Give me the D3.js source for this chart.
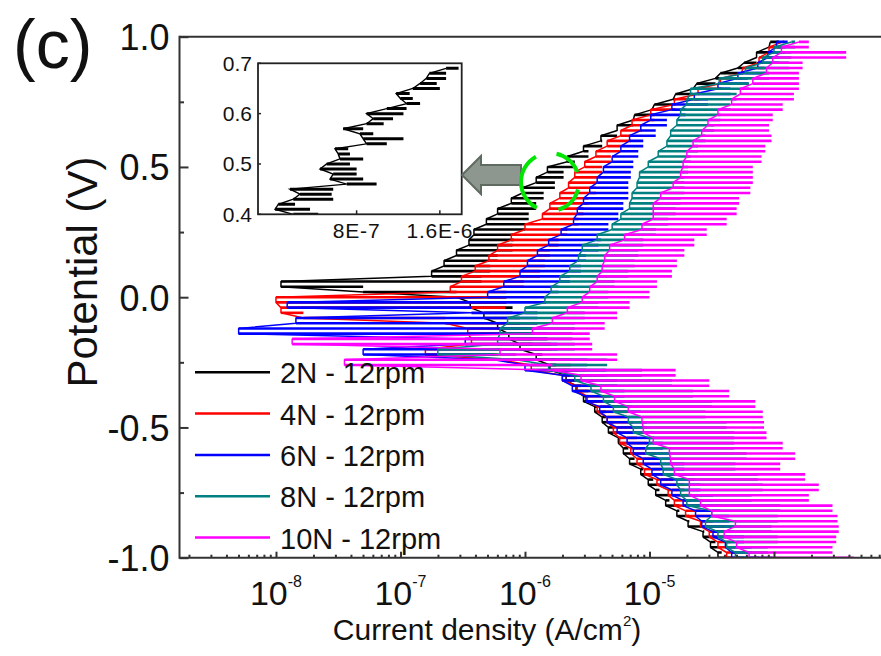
<!DOCTYPE html>
<html>
<head>
<meta charset="utf-8">
<script src="https://cdn.jsdelivr.net/npm/d3@7"></script>
<style>
  body { margin: 0; background: #fff; }
  svg { display: block; font-family: "Liberation Sans", Arial, Helvetica, sans-serif; }
</style>
</head>
<body>
<svg id="chart" width="881" height="656"></svg>
<script>
// Potentiodynamic sweep: potential levels (V) shared by all five curves
const potential = [
  -1.00,-0.98,-0.96,-0.94,-0.92,-0.90,-0.88,-0.86,-0.84,-0.82,
  -0.80,-0.78,-0.76,-0.74,-0.72,-0.70,-0.68,-0.66,-0.64,-0.62,
  -0.60,-0.58,-0.56,-0.54,-0.52,-0.50,-0.48,-0.46,-0.44,-0.42,
  -0.40,-0.38,-0.36,-0.34,-0.32,-0.30,-0.28,-0.26,-0.24,-0.22,
  -0.20,-0.18,-0.16,-0.14,-0.12,-0.10,-0.08,-0.06,-0.04,-0.02,
   0.00, 0.02, 0.04, 0.06, 0.08, 0.10, 0.12, 0.14, 0.16, 0.18,
   0.20, 0.22, 0.24, 0.26, 0.28, 0.30, 0.32, 0.34, 0.36, 0.38,
   0.40, 0.42, 0.44, 0.46, 0.48, 0.50, 0.52, 0.54, 0.56, 0.58,
   0.60, 0.62, 0.64, 0.66, 0.68, 0.70, 0.72, 0.74, 0.76, 0.78,
   0.80, 0.82, 0.84, 0.86, 0.88, 0.90, 0.92, 0.94, 0.96, 0.98,
   1.00
];

// log10 current density (A/cm²) read at each potential step
const logJ2N = [
  -4.34,-4.45,-4.42,-4.51,-4.47,-4.57,-4.56,-4.69,-4.68,-4.78,
  -4.76,-4.87,-4.84,-4.95,-4.92,-5.01,-4.97,-5.07,-5.05,-5.16,
  -5.12,-5.21,-5.17,-5.25,-5.23,-5.33,-5.29,-5.38,-5.35,-5.44,
  -5.42,-5.53,-5.49,-5.59,-5.55,-5.67,-5.64,-5.80,-5.75,-5.91,
  -5.86,-6.04,-5.94,-6.13,-5.98,-6.22,-6.04,-6.33,-6.10,-6.44,
  -6.15,-6.55,-7.30,-7.96,-6.35,-6.75,-6.28,-6.65,-6.22,-6.55,
  -6.10,-6.45,-6.09,-6.41,-6.00,-6.31,-5.97,-6.22,-5.91,-6.11,
  -5.85,-6.02,-5.76,-5.91,-5.69,-5.82,-5.60,-5.66,-5.49,-5.53,
  -5.38,-5.39,-5.26,-5.26,-5.13,-5.12,-4.98,-4.96,-4.81,-4.79,
  -4.65,-4.62,-4.47,-4.43,-4.29,-4.24,-4.14,-4.14,-4.04,-4.03,
  -3.96
];
const logJ4N = [
  -4.24,-4.38,-4.31,-4.45,-4.35,-4.52,-4.39,-4.59,-4.49,-4.71,
  -4.59,-4.80,-4.66,-4.85,-4.72,-4.94,-4.81,-5.04,-4.91,-5.10,
  -4.95,-5.15,-5.02,-5.24,-5.10,-5.29,-5.13,-5.34,-5.18,-5.42,
  -5.23,-5.50,-5.32,-5.58,-5.42,-5.70,-5.51,-5.95,-5.63,-6.22,
  -6.80,-5.79,-6.43,-5.82,-6.46,-5.90,-6.64,-7.78,-7.96,-6.16,
  -8.00,-6.15,-6.60,-6.01,-6.51,-5.88,-6.40,-5.84,-6.29,-5.80,
  -6.22,-5.73,-6.11,-5.66,-6.00,-5.57,-5.86,-5.53,-5.80,-5.49,
  -5.72,-5.43,-5.65,-5.42,-5.60,-5.38,-5.52,-5.31,-5.43,-5.23,
  -5.34,-5.15,-5.23,-5.06,-5.14,-4.96,-4.99,-4.79,-4.80,-4.60,
  -4.61,-4.42,-4.43,-4.26,-4.25,-4.08,-4.12,-4.01,-4.04,-3.93,
  -3.92
];
const logJ6N = [
  -4.12,-4.34,-4.18,-4.39,-4.24,-4.49,-4.32,-4.58,-4.36,-4.63,
  -4.43,-4.73,-4.49,-4.82,-4.59,-4.91,-4.64,-4.98,-4.72,-5.05,
  -4.83,-5.13,-4.89,-5.18,-4.96,-5.26,-5.02,-5.34,-5.07,-5.40,
  -5.14,-5.51,-5.20,-5.62,-5.26,-5.70,-5.35,-6.00,-5.50,-6.25,
  -7.30,-5.74,-6.48,-5.82,-8.30,-5.90,-7.84,-5.90,-6.43,-7.91,
  -5.83,-6.30,-5.73,-6.17,-5.64,-6.04,-5.55,-5.98,-5.51,-5.90,
  -5.41,-5.81,-5.39,-5.71,-5.33,-5.61,-5.25,-5.58,-5.21,-5.53,
  -5.17,-5.48,-5.17,-5.42,-5.15,-5.37,-5.13,-5.30,-5.09,-5.23,
  -5.05,-5.16,-4.95,-5.07,-4.86,-4.99,-4.71,-4.82,-4.53,-4.64,
  -4.35,-4.45,-4.21,-4.29,-4.06,-4.13,-3.96,-4.05,-3.91,-3.98,
  -3.89
];
const logJ8N = [
  -4.01,-4.31,-4.05,-4.38,-3.97,-4.45,-4.02,-4.55,-3.97,-4.50,
  -3.95,-4.70,-4.18,-4.75,-4.09,-4.78,-4.13,-4.89,-4.31,-4.91,
  -4.22,-5.03,-4.32,-5.00,-4.32,-5.13,-4.38,-5.17,-4.55,-5.29,
  -4.50,-5.37,-4.65,-5.47,-4.82,-5.60,-5.06,-5.81,-5.34,-6.07,
  -6.70,-5.60,-6.22,-5.62,-6.20,-5.60,-6.14,-5.52,-6.00,-5.41,
  -5.84,-5.33,-5.79,-5.28,-5.72,-5.17,-5.64,-5.12,-5.57,-5.09,
  -5.54,-5.05,-5.42,-4.95,-5.30,-4.85,-5.23,-4.79,-5.16,-4.75,
  -5.14,-4.72,-5.10,-4.72,-5.08,-4.69,-5.01,-4.67,-4.93,-4.61,
  -4.86,-4.55,-4.83,-4.48,-4.78,-4.43,-4.75,-4.35,-4.70,-4.30,
  -4.67,-4.20,-4.44,-4.04,-4.23,-3.88,-4.09,-3.86,-4.00,-3.83,
  -3.86
];
const logJ10N = [
  -3.36,-4.20,-3.53,-4.30,-3.50,-4.40,-3.48,-4.31,-3.49,-4.50,
  -3.53,-4.59,-3.72,-4.68,-3.64,-4.68,-3.75,-4.80,-3.95,-4.83,
  -3.83,-4.84,-3.93,-4.97,-4.06,-5.05,-4.08,-5.06,-4.09,-5.17,
  -4.15,-5.28,-4.36,-5.39,-4.52,-5.55,-4.79,-5.78,-7.45,-5.26,
  -6.20,-5.46,-7.87,-5.48,-5.94,-5.36,-5.78,-5.26,-5.66,-5.16,
  -5.54,-5.00,-5.48,-4.94,-5.42,-4.82,-5.38,-4.78,-5.36,-4.72,
  -5.32,-4.64,-5.20,-4.54,-5.06,-4.38,-4.97,-4.30,-4.97,-4.28,
  -4.91,-4.19,-4.81,-4.17,-4.75,-4.17,-4.73,-4.10,-4.70,-4.07,
  -4.65,-4.02,-4.58,-4.04,-4.53,-4.01,-4.45,-3.93,-4.34,-3.84,
  -4.27,-3.80,-4.17,-3.80,-4.06,-3.77,-4.01,-3.42,-3.94,-3.72,
  -3.80
];

const seriesNames  = ["2N - 12rpm", "4N - 12rpm", "6N - 12rpm", "8N - 12rpm", "10N - 12rpm"];
const seriesColors = ["#000000", "#ff0000", "#0000ff", "#008080", "#ff00ff"];
const seriesLogJ   = [logJ2N, logJ4N, logJ6N, logJ8N, logJ10N];

// Axis ticks
const yMajorTicks = [-1.0, -0.5, 0.0, 0.5, 1.0];
const yMinorTicks = [-0.75, -0.25, 0.25, 0.75];
const xMajorExponents = [-8, -7, -6, -5, -4];
const xLabelExponents = [-8, -7, -6, -5];

// Inset: magnified anodic segment of the 2N curve (linear current axis)
const insetPotential = [
  0.40,0.41,0.42,0.43,0.44,0.45,0.46,0.47,0.48,0.49,
  0.50,0.51,0.52,0.53,0.54,0.55,0.56,0.57,0.58,0.59,
  0.60,0.61,0.62,0.63,0.64,0.65,0.66,0.67,0.68,0.69
];
const insetLow = [
  1.91e-7,1.6e-8,4.7e-8,1.91e-7,2.56e-7,1.6e-7,7.04e-7,5.44e-7,5.75e-7,4.48e-7,
  5.12e-7,6.4e-7,6.23e-7,5.92e-7,8.96e-7,8.63e-7,8.32e-7,6.71e-7,8.96e-7,9.6e-7,
  8.96e-7,1.09e-6,1.28e-6,1.22e-6,1.18e-6,1.34e-6,1.41e-6,1.47e-6,1.5e-6,1.66e-6
];
const insetHigh = [
  4.31e-7,3.52e-7,2.08e-7,5.75e-7,5.6e-7,5.75e-7,9.92e-7,8.63e-7,8.0e-7,8.0e-7,
  7.36e-7,8.63e-7,7.36e-7,7.19e-7,1.09e-6,1.25e-6,9.6e-7,8.63e-7,1.06e-6,1.15e-6,
  1.25e-6,1.28e-6,1.41e-6,1.34e-6,1.31e-6,1.6e-6,1.57e-6,1.66e-6,1.66e-6,1.78e-6
];
const insetYTicks = [0.4, 0.5, 0.6, 0.7];
const insetXTicks = [8e-7, 1.6e-6];
const insetXTickLabels = ["8E-7", "1.6E-6"];

// ---------------------------------------------------------------
const plot = { left: 179.5, top: 36.7, right: 881, bottom: 557.7 };
const decade = 124.5;

const x = d3.scaleLog()
  .domain([10 ** -8.775, 1e-3])
  .range([plot.left, plot.left + 5.775 * decade]);
const y = d3.scaleLinear().domain([-1, 1]).range([plot.bottom, plot.top]);

const svg = d3.select("#chart");
const defs = svg.append("defs");
defs.append("clipPath").attr("id", "plotClip").append("rect")
  .attr("x", plot.left).attr("y", plot.top)
  .attr("width", plot.right - plot.left).attr("height", plot.bottom - plot.top);

svg.append("rect").attr("width", 881).attr("height", 656).attr("fill", "#fff");

// Polarization curves: at every potential step the current swings between two
// consecutive readings (heavy horizontal stroke); a thin trace joins the
// low-current ends of successive swings.
const trace = d3.line()
  .x(d => x(10 ** d.lo))
  .y(d => y(d.v));

const gData = svg.append("g").attr("clip-path", "url(#plotClip)");
seriesLogJ.forEach((vals, k) => {
  const swings = potential.slice(0, -1).map((v, i) => ({
    v, a: vals[i], b: vals[i + 1], lo: Math.min(vals[i], vals[i + 1])
  }));
  const g = gData.append("g").attr("stroke", seriesColors[k]).attr("fill", "none");
  g.append("path").attr("d", trace(swings)).attr("stroke-width", 1.5).attr("stroke-linejoin", "round");
  g.selectAll("line.swing")
    .data(swings)
    .join("line")
    .attr("class", "swing")
    .attr("x1", d => x(10 ** d.a)).attr("x2", d => x(10 ** d.b))
    .attr("y1", d => y(d.v)).attr("y2", d => y(d.v))
    .attr("stroke-width", 2.6);
});

// Axes
const axisColor = "#333";
const gY = svg.append("g").attr("transform", `translate(${plot.left},0)`)
  .call(d3.axisLeft(y).tickValues(yMajorTicks).tickSize(-9).tickPadding(10)
    .tickFormat(d => d.toFixed(1)));
gY.select(".domain").remove();
gY.attr("font-family", null).attr("font-size", null);
gY.selectAll(".tick line").attr("stroke", axisColor).attr("stroke-width", 2);
gY.selectAll(".tick text").attr("font-size", 36).attr("fill", "#111").attr("dy", "0.36em");

const gYm = svg.append("g").attr("transform", `translate(${plot.left},0)`)
  .call(d3.axisLeft(y).tickValues(yMinorTicks).tickSize(-4.5).tickFormat(""));
gYm.select(".domain").remove();
gYm.selectAll(".tick line").attr("stroke", axisColor).attr("stroke-width", 2);

const xMinor = [];
for (let e = -9; e <= -4; e++) for (let m = 2; m <= 9; m++) {
  const v = m * 10 ** e;
  if (v > x.domain()[0] && v < x.domain()[1]) xMinor.push(v);
}
const gX = svg.append("g").attr("transform", `translate(0,${plot.bottom})`)
  .call(d3.axisBottom(x).tickValues(xMajorExponents.map(e => 10 ** e)).tickSize(-6).tickFormat(""));
gX.select(".domain").remove();
gX.selectAll(".tick line").attr("stroke", axisColor).attr("stroke-width", 2);
const gXm = svg.append("g").attr("transform", `translate(0,${plot.bottom})`)
  .call(d3.axisBottom(x).tickValues(xMinor).tickSize(-3).tickFormat(""));
gXm.select(".domain").remove();
gXm.selectAll(".tick line").attr("stroke", axisColor).attr("stroke-width", 2);

// x tick labels as powers of ten
const xl = svg.append("g").attr("fill", "#111");
xLabelExponents.forEach(e => {
  const t = xl.append("text")
    .attr("x", x(10 ** e)).attr("y", 605)
    .attr("text-anchor", "middle").attr("font-size", 34);
  t.append("tspan").text("10");
  t.append("tspan").attr("font-size", 16).attr("dy", -18).text(String(e));
});

// Frame lines
const frame = svg.append("g").attr("stroke", axisColor).attr("stroke-width", 2).attr("fill", "none");
frame.append("line").attr("x1", plot.left).attr("x2", plot.left).attr("y1", plot.top - 1).attr("y2", plot.bottom + 1);
frame.append("line").attr("x1", plot.left).attr("x2", plot.right).attr("y1", plot.top).attr("y2", plot.top);
frame.append("line").attr("x1", plot.left).attr("x2", plot.right).attr("y1", plot.bottom).attr("y2", plot.bottom);

// Axis titles
const xt = svg.append("text").attr("x", 487).attr("y", 640)
  .attr("text-anchor", "middle").attr("font-size", 30).attr("fill", "#111");
xt.append("tspan").text("Current density (A/cm");
xt.append("tspan").attr("font-size", 15).attr("dy", -14).text("2");
xt.append("tspan").attr("dy", 14).text(")");

svg.append("text")
  .attr("transform", "translate(97,272) rotate(-90)")
  .attr("text-anchor", "middle").attr("font-size", 42).attr("fill", "#111")
  .text("Potential (V)");

svg.append("text").attr("x", 13).attr("y", 68)
  .attr("font-size", 68).attr("fill", "#111").text("(c)");

// Legend
const legend = svg.append("g");
seriesNames.forEach((name, k) => {
  const ly = 372.3 + k * 41.3;
  legend.append("line").attr("x1", 195).attr("x2", 270).attr("y1", ly).attr("y2", ly)
    .attr("stroke", seriesColors[k]).attr("stroke-width", 2.5);
  legend.append("text").attr("x", 280).attr("y", ly + 11)
    .attr("font-size", 29).attr("fill", "#111").text(name);
});

// Inset
const inset = { left: 258, top: 63.3, right: 461.7, bottom: 214.3 };
const ix = d3.scaleLinear().domain([-1.48e-7, 1.81e-6]).range([inset.left, inset.right]);
const iy = d3.scaleLinear().domain([0.4, 0.7]).range([inset.bottom, inset.top]);
defs.append("clipPath").attr("id", "insetClip").append("rect")
  .attr("x", inset.left).attr("y", inset.top)
  .attr("width", inset.right - inset.left).attr("height", inset.bottom - inset.top);

const gIn = svg.append("g");
gIn.append("rect").attr("x", inset.left).attr("y", inset.top)
  .attr("width", inset.right - inset.left).attr("height", inset.bottom - inset.top)
  .attr("fill", "#fff");
const gInData = gIn.append("g").attr("clip-path", "url(#insetClip)").attr("stroke", "#000").attr("fill", "none");
gInData.append("path")
  .attr("d", d3.line().x(d => ix(d[1])).y(d => iy(d[0]))(insetPotential.map((v, i) => [v, insetLow[i]])))
  .attr("stroke-width", 1.4);
gInData.selectAll("line")
  .data(insetPotential.map((v, i) => ({ v, a: insetLow[i], b: insetHigh[i] })))
  .join("line")
  .attr("x1", d => ix(d.a)).attr("x2", d => ix(d.b))
  .attr("y1", d => iy(d.v)).attr("y2", d => iy(d.v))
  .attr("stroke-width", 3);
gIn.append("rect").attr("x", inset.left).attr("y", inset.top)
  .attr("width", inset.right - inset.left).attr("height", inset.bottom - inset.top)
  .attr("fill", "none").attr("stroke", "#222").attr("stroke-width", 1.8);

insetYTicks.forEach(v => {
  gIn.append("line").attr("x1", inset.left).attr("x2", inset.left + 3)
    .attr("y1", iy(v)).attr("y2", iy(v)).attr("stroke", "#222").attr("stroke-width", 1.5);
  gIn.append("text").attr("x", 252).attr("y", iy(v) + 7.5)
    .attr("text-anchor", "end").attr("font-size", 21).attr("fill", "#111").text(v.toFixed(1));
});
insetXTicks.forEach((v, k) => {
  gIn.append("line").attr("x1", ix(v)).attr("x2", ix(v))
    .attr("y1", inset.bottom).attr("y2", inset.bottom - 4).attr("stroke", "#222").attr("stroke-width", 1.5);
  gIn.append("text").attr("x", ix(v)).attr("y", 238)
    .attr("text-anchor", "middle").attr("font-size", 21).attr("letter-spacing", 0.8)
    .attr("fill", "#111").text(insetXTickLabels[k]);
});

// Pointer arrow from the highlighted region to the inset
svg.append("path")
  .attr("d", "M462,175 L481,156 L481,165 L521,165 L521,185 L481,185 L481,194 Z")
  .attr("fill", "#8d978f").attr("stroke", "#5f6b61").attr("stroke-width", 2);

// Highlight marks around the magnified region
const cx = 550, cy = 182, r = 29;
const arcPath = (a0, a1) => {
  const p = d3.path();
  p.arc(cx, cy, r, a0 * Math.PI / 180, a1 * Math.PI / 180);
  return p.toString();
};
const hl = svg.append("g").attr("fill", "none").attr("stroke", "#00e600").attr("stroke-width", 4);
hl.append("path").attr("d", arcPath(117, 241));
hl.append("path").attr("d", arcPath(-77, -20));
hl.append("path").attr("d", arcPath(15, 73));
</script>
</body>
</html>
